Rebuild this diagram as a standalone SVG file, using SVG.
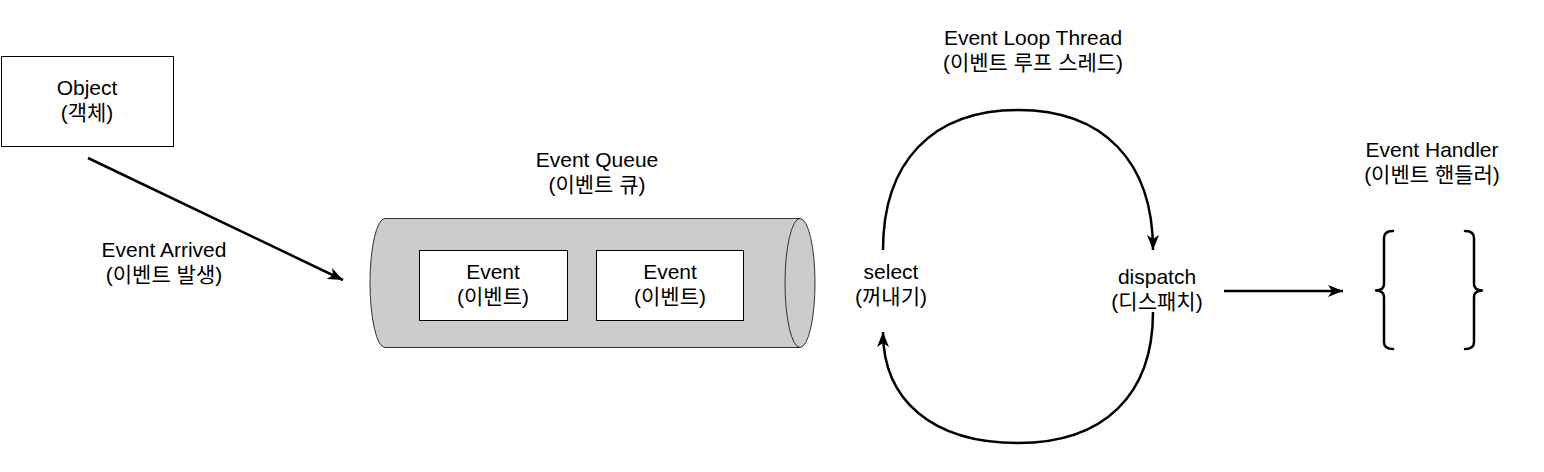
<svg xmlns="http://www.w3.org/2000/svg" width="1544" height="472" viewBox="0 0 1544 472">
  <style>
    text { font-family: "Liberation Sans", Arial, "Noto Sans CJK KR", sans-serif; font-size: 21px; fill: #000; text-anchor: middle; }
    .box { fill: #fff; stroke: #000; stroke-width: 1; }
    .conn { fill: none; stroke: #000; stroke-width: 2.5; }
    .brace { fill: none; stroke: #000; stroke-width: 2.5; stroke-linecap: round; stroke-linejoin: round; }
  </style>
  <defs>
    <marker id="arrow" markerUnits="userSpaceOnUse" markerWidth="16" markerHeight="14" viewBox="0 0 16 14" refX="15" refY="7" orient="auto">
      <path d="M0,1 L15,7 L0,13 L4,7 Z" fill="#000"/>
    </marker>
  </defs>
  <rect width="1544" height="472" fill="#fff"/>

  <g id="object">
    <rect class="box" x="1.5" y="56.5" width="172" height="90"/>
    <text x="87" y="95">Object</text>
    <text x="87" y="120">(객체)</text>
  </g>

  <g id="event-arrived-label">
    <text x="164" y="257">Event Arrived</text>
    <text x="164" y="282">(이벤트 발생)</text>
  </g>

  <g id="event-queue">
    <text x="597" y="167">Event Queue</text>
    <text x="597" y="192">(이벤트 큐)</text>
    <path d="M385,218.5 H800 A15,64.5 0 0 1 800,347.5 H385 A15,64.5 0 0 1 385,218.5 Z" fill="#ccc" stroke="#333" stroke-width="1"/>
    <path d="M800,218.5 A15,64.5 0 0 0 800,347.5" fill="none" stroke="#333" stroke-width="1"/>
  </g>

  <g id="event-1">
    <rect class="box" x="419.5" y="250.5" width="148" height="70"/>
    <text x="493" y="279">Event</text>
    <text x="493" y="304">(이벤트)</text>
  </g>

  <g id="event-2">
    <rect class="box" x="596.5" y="250.5" width="147" height="70"/>
    <text x="670" y="279">Event</text>
    <text x="670" y="304">(이벤트)</text>
  </g>

  <g id="event-loop-label">
    <text x="1033" y="45">Event Loop Thread</text>
    <text x="1033" y="70">(이벤트 루프 스레드)</text>
  </g>

  <g id="select">
    <text x="891" y="279">select</text>
    <text x="891" y="304">(꺼내기)</text>
  </g>

  <g id="dispatch">
    <text x="1157" y="284">dispatch</text>
    <text x="1157" y="309">(디스패치)</text>
  </g>

  <g id="event-handler">
    <text x="1432" y="157">Event Handler</text>
    <text x="1432" y="182">(이벤트 핸들러)</text>
    <path class="brace" d="M1393,231 Q1384,231 1384,238 V284 Q1384,290 1376,290.5 Q1384,291 1384,297 V342 Q1384,349 1393,349"/>
    <path class="brace" d="M1465,231 Q1474,231 1474,238 V284 Q1474,290 1482,290.5 Q1474,291 1474,297 V342 Q1474,349 1465,349"/>
  </g>

  <g id="connectors">
    <path class="conn" d="M88,158 L343,280" marker-end="url(#arrow)"/>
    <path class="conn" d="M883,250 C883,162 932,110 1018,110 C1104,110 1153,162 1153,250" marker-end="url(#arrow)"/>
    <path class="conn" d="M1153,312 C1153,395 1104,443 1018,443 C932,443 883,400 883,332" marker-end="url(#arrow)"/>
    <path class="conn" d="M1224,291 L1343,291" marker-end="url(#arrow)"/>
  </g>
</svg>
